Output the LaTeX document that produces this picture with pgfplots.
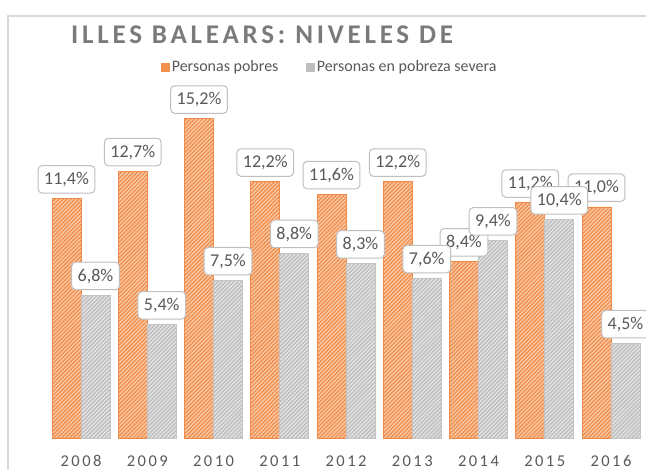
\documentclass[border=0pt]{standalone}
\usepackage{fontspec}
\setmainfont{Carlito}
\newfontfamily\titlefont[LetterSpace=14]{Carlito}
\newfontfamily\yearfont[LetterSpace=15]{Carlito}
\usepackage{pgfplots}
\pgfplotsset{compat=1.18}
\usetikzlibrary{patterns.meta}

\definecolor{orbase}{HTML}{F2904E}
\definecolor{orlight}{HTML}{FBD0B2}
\definecolor{oredge}{HTML}{F08A48}
\definecolor{grbase}{HTML}{BEBEBE}
\definecolor{grlight}{HTML}{E8E8E8}
\definecolor{gredge}{HTML}{C4C4C4}
\definecolor{txt}{HTML}{595959}
\definecolor{titlegray}{HTML}{7A7A7A}
\definecolor{lblbox}{HTML}{BFBFBF}
\definecolor{frame}{HTML}{D9D9D9}

\pgfplotsset{
  orbar/.style={ybar, bar width=29pt, fill=orbase, draw=oredge, line width=0.6pt,
    postaction={pattern={Lines[angle=45,distance=2.8pt,line width=1.1pt]}, pattern color=orlight}},
  grbar/.style={ybar, bar width=29pt, fill=grbase, draw=gredge, line width=0.6pt,
    postaction={pattern={Lines[angle=45,distance=2.8pt,line width=1.1pt]}, pattern color=grlight}},
  % invisible bars that only carry the data labels, drawn after all bars
  lbl/.style={ybar, bar width=29pt, bar shift=0pt, draw=none, fill=none, forget plot,
    point meta=y,
    nodes near coords={\pgfmathprintnumber[fixed,fixed zerofill,precision=1,use comma,assume math mode=true]{\pgfplotspointmeta}\%},
    every node near coord/.append style={font=\fontsize{18}{20}\selectfont, text=txt,
      draw=lblbox, fill=white, line width=1pt, rounded corners=4pt,
      inner xsep=6pt, inner ysep=6.5pt, text height=12.5pt, text depth=2pt,
      anchor=south, xshift=#1, yshift=5pt}},
}

\begin{document}
\begin{tikzpicture}
\useasboundingbox (0pt,0pt) rectangle (646pt,470pt);
\draw[frame, line width=1.2pt] (8pt,0pt) -- (8pt,454pt) -- (646pt,454pt);

\begin{axis}[
  scale only axis,
  width=596.25pt, height=357pt,
  at={(47.9pt,32pt)}, anchor=south west,
  xmin=-0.5, xmax=8.5, ymin=0, ymax=17,
  axis line style={draw=none},
  ytick=\empty,
  xtick={0,...,8},
  xticklabels={2008,2009,2010,2011,2012,2013,2014,2015,2016},
  major tick length=0pt,
  xticklabel style={font=\yearfont\fontsize{16.5}{18}\selectfont, text=txt, yshift=-14pt},
  /pgf/number format/assume math mode=true,
  clip=false,
  legend columns=2,
  legend style={draw=none, fill=none, at={(0.19,1.039)}, anchor=west,
    font=\fontsize{16}{18}\selectfont, text=txt, inner sep=0pt,
    nodes={inner sep=2pt},
    /tikz/every even column/.append style={column sep=26pt}},
  legend cell align=left,
]
\addlegendimage{legend image code/.code={\fill[orbase] (0pt,-4pt) rectangle (8pt,4pt);}}
\addlegendentry{Personas pobres}
\addlegendimage{legend image code/.code={\fill[grbase] (0pt,-4pt) rectangle (8pt,4pt);}}
\addlegendentry{Personas en pobreza severa}

\addplot[orbar, bar shift=-14.5pt, forget plot] coordinates
  {(0,11.4)(1,12.7)(2,15.2)(3,12.2)(4,11.6)(5,12.2)(6,8.4)(7,11.2)(8,11.0)};
\addplot[grbar, bar shift=14.5pt, forget plot] coordinates
  {(0,6.8)(1,5.4)(2,7.5)(3,8.8)(4,8.3)(5,7.6)(6,9.4)(7,10.4)(8,4.5)};

\addplot[lbl=-14.5pt] coordinates
  {(0,11.4)(1,12.7)(2,15.2)(3,12.2)(4,11.6)(5,12.2)(6,8.4)(7,11.2)(8,11.0)};
\addplot[lbl=14.5pt] coordinates
  {(0,6.8)(1,5.4)(2,7.5)(3,8.8)(4,8.3)(5,7.6)(6,9.4)(7,10.4)(8,4.5)};
\end{axis}

\node[anchor=west, text=titlegray, inner sep=0pt,
  font=\titlefont\bfseries\fontsize{27}{30}\selectfont] at (71pt,435pt) {ILLES BALEARS: NIVELES DE};
\end{tikzpicture}
\end{document}
